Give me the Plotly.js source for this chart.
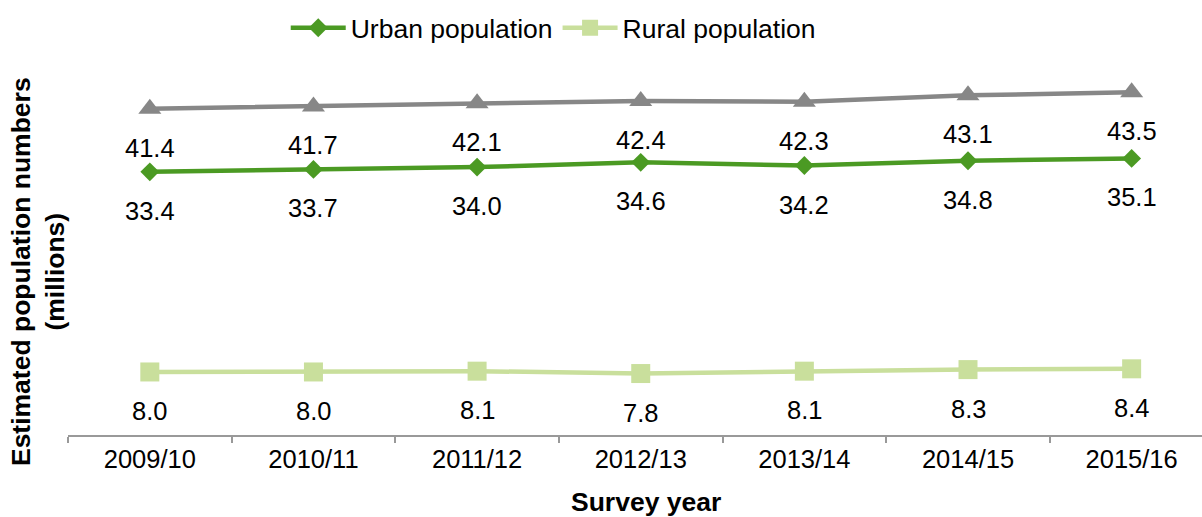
<!DOCTYPE html>
<html>
<head>
<meta charset="utf-8">
<script src="https://cdn.plot.ly/plotly-3.0.1.min.js"></script>
<style>
html,body{margin:0;padding:0;background:#fff;overflow:hidden;}
#chart{width:1202px;height:517px;}
</style>
</head>
<body>
<div id="chart"></div>
<script>
const categories = ["2009/10","2010/11","2011/12","2012/13","2013/14","2014/15","2015/16"];
const totalPopulation = [41.4, 41.7, 42.1, 42.4, 42.3, 43.1, 43.5];
const urbanPopulation = [33.4, 33.7, 34.0, 34.6, 34.2, 34.8, 35.1];
const ruralPopulation = [8.0, 8.0, 8.1, 7.8, 8.1, 8.3, 8.4];

const FONT = "Liberation Sans, Arial, Helvetica, sans-serif";

const traces = [
  {
    x: categories, y: totalPopulation, type: "scatter", mode: "lines+markers",
    name: "Total population", showlegend: false,
    line: {color: "#878787", width: 4.5},
    marker: {symbol: "triangle-up", size: 20, color: "#878787"},
    hoverinfo: "skip"
  },
  {
    x: categories, y: urbanPopulation, type: "scatter", mode: "lines+markers",
    name: "Urban population",
    line: {color: "#4b9a23", width: 4.5},
    marker: {symbol: "diamond", size: 14.5, color: "#4b9a23"},
    hoverinfo: "skip"
  },
  {
    x: categories, y: ruralPopulation, type: "scatter", mode: "lines+markers",
    name: "Rural population",
    line: {color: "#c9df9c", width: 4.5},
    marker: {symbol: "square", size: 19, color: "#c9df9c"},
    hoverinfo: "skip"
  }
];

const annotations = [];
[totalPopulation, urbanPopulation, ruralPopulation].forEach(series => {
  series.forEach((v, i) => {
    annotations.push({
      x: categories[i], y: v, xref: "x", yref: "y", text: v.toFixed(1),
      showarrow: false, yshift: -39, xanchor: "center", yanchor: "middle",
      font: {family: FONT, size: 25.5, color: "#000"}
    });
  });
});

annotations.push({
  xref: "paper", yref: "paper", x: -0.0265, y: 0.416,
  text: "<b>Estimated population numbers<br>(millions)</b>",
  textangle: -90, showarrow: false, xanchor: "center", yanchor: "middle",
  font: {family: FONT, size: 26.5, color: "#000"}
});
annotations.push({
  xref: "paper", yref: "paper", x: 0.5098, y: -0.127,
  text: "<b>Survey year</b>",
  showarrow: false, xanchor: "center", yanchor: "top",
  font: {family: FONT, size: 26.5, color: "#000"}
});

const layout = {
  width: 1202, height: 517,
  margin: {l: 68, r: 0, t: 41, b: 82, pad: 0},
  paper_bgcolor: "#fff", plot_bgcolor: "#fff",
  font: {family: FONT, size: 25, color: "#000"},
  showlegend: true,
  legend: {
    orientation: "h", x: 0.192, y: 1.033, xanchor: "left", yanchor: "middle",
    itemwidth: 55,
    font: {family: FONT, size: 26.5, color: "#000"}, bgcolor: "rgba(0,0,0,0)"
  },
  xaxis: {
    type: "category",
    range: [-0.5, 6.43],
    tickson: "boundaries", ticks: "outside", ticklen: 6, tickcolor: "#999", tickwidth: 2,
    showline: true, linecolor: "#999", linewidth: 2, showgrid: false, zeroline: false,
    tickfont: {family: FONT, size: 25.5, color: "#000"}, fixedrange: true
  },
  yaxis: {
    range: [0, 50], visible: false, showgrid: false, zeroline: false, fixedrange: true
  },
  annotations: annotations
};

Plotly.newPlot("chart", traces, layout, {displayModeBar: false, staticPlot: true});
</script>
</body>
</html>
